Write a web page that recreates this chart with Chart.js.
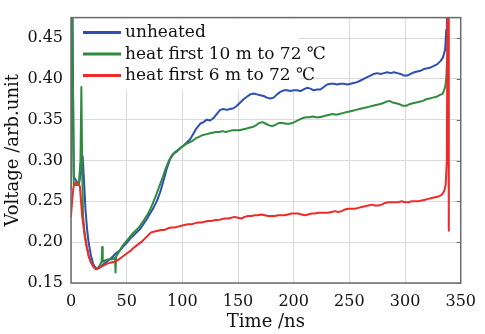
<!DOCTYPE html>
<html>
<head>
<meta charset="utf-8">
<script src="https://cdn.jsdelivr.net/npm/chart.js@4.4.0/dist/chart.umd.min.js"></script>
<style>
  html, body { margin: 0; padding: 0; background: #fff; }
  #wrap { width: 485px; height: 334px; }
</style>
</head>
<body>
<div id="wrap"><canvas id="chart" width="485" height="334"></canvas></div>
<script>
// Values: [time ns, voltage]
const xTicks = [0, 50, 100, 150, 200, 250, 300, 350];
const yTicks = [0.15, 0.20, 0.25, 0.30, 0.35, 0.40, 0.45];
const seriesNames = ['unheated', 'heat first 10 m to 72 \u2103', 'heat first 6 m to 72 \u2103'];

const unheated = [
  [0,0.44],[1,0.52],[2.5,0.28],[7,0.27],[9.5,0.29],[10.5,0.305],[11.5,0.28],[13,0.24],[14.5,0.215],[16,0.198],[18,0.183],[20,0.173],
  [23,0.167],[26,0.169],[29,0.173],[32,0.176],[35,0.179],[38,0.183],[41,0.187],[44,0.19],[47,0.195],[50,0.199],
  [53,0.204],[56,0.208],[59,0.212],[62,0.216],[65,0.222],[68,0.228],[71,0.235],[74,0.242],[77,0.25],[80,0.261],
  [83,0.275],[86,0.29],[89,0.302],[92,0.308],[95,0.311],[98,0.315],[101,0.318],[104,0.322],[107,0.326],[110,0.333],
  [113,0.34],[116,0.345],[119,0.347],[122,0.35],[125,0.349],[128,0.352],[131,0.357],[134,0.362],[137,0.363],[140,0.362],
  [143,0.363],[146,0.364],[149,0.367],[152,0.371],[155,0.375],[158,0.378],[161,0.381],[164,0.382],[167,0.381],[170,0.38],
  [173,0.379],[176,0.377],[179,0.376],[182,0.377],[185,0.381],[188,0.384],[191,0.386],[194,0.386],[197,0.385],[200,0.386],
  [203,0.386],[206,0.385],[209,0.387],[212,0.389],[215,0.388],[218,0.386],[221,0.387],[224,0.387],[227,0.39],[230,0.393],
  [233,0.394],[236,0.394],[239,0.393],[242,0.394],[245,0.394],[248,0.393],[251,0.394],[254,0.395],[257,0.396],[260,0.398],
  [263,0.4],[266,0.402],[269,0.404],[272,0.406],[275,0.407],[278,0.406],[281,0.407],[284,0.408],[287,0.407],[290,0.408],
  [293,0.407],[296,0.406],[299,0.404],[302,0.404],[305,0.406],[308,0.408],[311,0.409],[314,0.41],[317,0.412],[320,0.413],
  [323,0.414],[326,0.416],[329,0.418],[332,0.422],[334,0.426],[336,0.436],[337,0.46],[337.6,0.52],[338.2,0.52],[338.6,0.337]
];

const heat10 = [
  [0,0.265],[1,0.52],[2.5,0.27],[7,0.27],[8.5,0.3],[9.3,0.39],[10,0.3],[10.8,0.232],[12,0.215],[14,0.195],[16,0.182],[18,0.175],
  [21,0.169],[24,0.168],[26,0.172],[27.5,0.176],[28,0.194],[28.5,0.176],[31,0.178],[34,0.179],[37,0.179],[39.5,0.181],
  [40,0.163],[40.5,0.182],[43,0.188],[46,0.195],[49,0.2],[52,0.205],[55,0.21],[58,0.214],[61,0.218],[64,0.224],
  [67,0.23],[70,0.237],[73,0.246],[76,0.256],[79,0.267],[82,0.278],[85,0.29],[88,0.3],[91,0.307],[94,0.311],
  [97,0.314],[100,0.317],[103,0.32],[106,0.322],[109,0.324],[112,0.327],[115,0.329],[118,0.331],[121,0.332],[124,0.333],
  [127,0.334],[130,0.335],[133,0.335],[136,0.336],[139,0.335],[142,0.336],[145,0.337],[148,0.337],[151,0.337],[154,0.338],
  [157,0.339],[160,0.34],[163,0.341],[166,0.343],[169,0.346],[172,0.347],[175,0.345],[178,0.343],[181,0.342],[184,0.344],
  [187,0.346],[190,0.346],[193,0.345],[196,0.345],[199,0.346],[202,0.348],[205,0.35],[208,0.352],[211,0.353],[214,0.353],
  [217,0.354],[220,0.353],[223,0.353],[226,0.354],[229,0.355],[232,0.356],[235,0.357],[238,0.356],[241,0.357],[244,0.358],
  [247,0.359],[250,0.36],[253,0.361],[256,0.362],[259,0.363],[262,0.364],[265,0.365],[268,0.366],[271,0.367],[274,0.368],
  [277,0.369],[280,0.37],[283,0.372],[286,0.373],[289,0.371],[292,0.37],[295,0.369],[298,0.367],[301,0.367],[304,0.369],
  [307,0.37],[310,0.371],[313,0.372],[316,0.373],[319,0.375],[322,0.376],[325,0.377],[328,0.378],[331,0.38],[334,0.382],
  [336,0.39],[337,0.4],[338,0.43],[338.7,0.52]
];

const heat6 = [
  [0,0.232],[1,0.25],[2,0.265],[3,0.272],[5,0.273],[7,0.271],[8,0.268],[9,0.25],[10,0.232],[11,0.222],[12,0.21],[14,0.195],
  [16,0.183],[18,0.175],[20,0.17],[22,0.167],[24,0.168],[27,0.17],[30,0.172],[33,0.174],[36,0.175],[39,0.176],
  [42,0.178],[45,0.181],[48,0.184],[51,0.187],[54,0.19],[57,0.194],[60,0.197],[63,0.2],[66,0.204],[69,0.208],
  [72,0.212],[75,0.213],[78,0.214],[81,0.215],[84,0.215],[87,0.217],[90,0.218],[93,0.218],[96,0.219],[99,0.22],
  [102,0.221],[105,0.222],[108,0.222],[111,0.223],[114,0.224],[117,0.224],[120,0.225],[123,0.226],[126,0.226],[129,0.227],
  [132,0.227],[135,0.228],[138,0.229],[141,0.229],[144,0.23],[147,0.231],[150,0.23],[153,0.229],[156,0.231],[159,0.232],
  [162,0.232],[165,0.233],[168,0.233],[171,0.234],[174,0.233],[177,0.232],[180,0.232],[183,0.232],[186,0.233],[189,0.233],
  [192,0.233],[195,0.234],[198,0.235],[201,0.235],[204,0.235],[207,0.234],[210,0.233],[213,0.234],[216,0.235],[219,0.235],
  [222,0.236],[225,0.236],[228,0.236],[231,0.236],[234,0.237],[237,0.238],[240,0.237],[243,0.238],[246,0.24],[249,0.241],
  [252,0.241],[255,0.241],[258,0.242],[261,0.243],[264,0.244],[267,0.245],[270,0.246],[273,0.245],[276,0.245],[279,0.246],
  [282,0.248],[285,0.249],[288,0.249],[291,0.249],[294,0.249],[297,0.25],[300,0.249],[303,0.249],[306,0.25],[309,0.25],
  [312,0.25],[315,0.251],[318,0.252],[321,0.253],[324,0.254],[327,0.255],[330,0.256],[333,0.258],[335,0.262],[336.5,0.27],
  [337.5,0.3],[338.3,0.52],[338.8,0.52],[339.3,0.214]
];

const colors = ['#2d4fb4', '#2f8c3c', '#f02a2a'];
const serif = 'DejaVu Serif';

function toPoints(arr) {
    return arr.map(p => ({ x: p[0], y: p[1] }));
}

// Legend box sitting inside the plot, top left
const legendBox = {
    id: 'legendBox',
    beforeDatasetsDraw(chart) {
        const ctx = chart.ctx;
        const area = chart.chartArea;
        ctx.save();
        ctx.fillStyle = '#ffffff';
        ctx.fillRect(area.left + 2, area.top + 1, 226, 71);
        ctx.font = '17px "' + serif + '"';
        ctx.textBaseline = 'middle';
        ctx.textAlign = 'left';
        chart.data.datasets.forEach((ds, i) => {
            const y = area.top + 15 + i * 21.5;
            ctx.strokeStyle = ds.borderColor;
            ctx.lineWidth = 3;
            ctx.beginPath();
            ctx.moveTo(area.left + 12, y);
            ctx.lineTo(area.left + 50, y);
            ctx.stroke();
            ctx.fillStyle = '#111';
            ctx.fillText(ds.label, area.left + 54, y);
        });
        ctx.restore();
    }
};

// Box round the plot with short ticks on the right side
const frame = {
    id: 'frame',
    afterDraw(chart) {
        const ctx = chart.ctx;
        const a = chart.chartArea;
        const yScale = chart.scales.y;
        ctx.save();
        ctx.strokeStyle = '#6a6a6a';
        ctx.lineWidth = 1.5;
        ctx.strokeRect(a.left, a.top, a.right - a.left, a.bottom - a.top);
        ctx.lineWidth = 1;
        yTicks.forEach(v => {
            const y = Math.round(yScale.getPixelForValue(v)) + 0.5;
            ctx.beginPath();
            ctx.moveTo(a.right - 4, y);
            ctx.lineTo(a.right, y);
            ctx.stroke();
        });
        ctx.restore();
    }
};

const ctx = document.getElementById('chart').getContext('2d');
const chart = new Chart(ctx, {
    type: 'line',
    data: {
        datasets: [
            { label: seriesNames[0], data: toPoints(unheated), borderColor: colors[0], order: 2 },
            { label: seriesNames[1], data: toPoints(heat10), borderColor: colors[1], order: 1 },
            { label: seriesNames[2], data: toPoints(heat6), borderColor: colors[2], order: 0 }
        ]
    },
    options: {
        responsive: false,
        devicePixelRatio: 1,
        animation: false,
        layout: { padding: { left: 0, right: 17, top: 5, bottom: 0 } },
        elements: {
            point: { radius: 0 },
            line: { borderWidth: 2, tension: 0, borderJoinStyle: 'round', borderCapStyle: 'round' }
        },
        plugins: {
            legend: { display: false },
            tooltip: { enabled: false }
        },
        scales: {
            x: {
                type: 'linear',
                min: 0,
                max: 350,
                afterBuildTicks: s => { s.ticks = xTicks.map(v => ({ value: v })); },
                afterFit: s => { s.height = 51; },
                ticks: { color: '#111', font: { family: serif, size: 16 }, padding: 9, maxRotation: 0 },
                grid: { color: '#dadada', drawTicks: false },
                border: { display: false },
                title: { display: true, text: 'Time /ns', color: '#111', font: { family: serif, size: 18 }, padding: { top: 0, bottom: 1 } }
            },
            y: {
                type: 'linear',
                min: 0.15,
                max: 0.475,
                afterBuildTicks: s => { s.ticks = yTicks.map(v => ({ value: v })); },
                afterFit: s => { s.width = 71; },
                ticks: { color: '#111', font: { family: serif, size: 16 }, padding: 8, callback: v => v.toFixed(2) },
                grid: { color: '#dadada', drawTicks: false },
                border: { display: false },
                title: { display: true, text: 'Voltage /arb.unit', color: '#111', font: { family: serif, size: 18 }, padding: { top: 3, bottom: 0 } }
            }
        }
    },
    plugins: [legendBox, frame]
});
</script>
</body>
</html>
